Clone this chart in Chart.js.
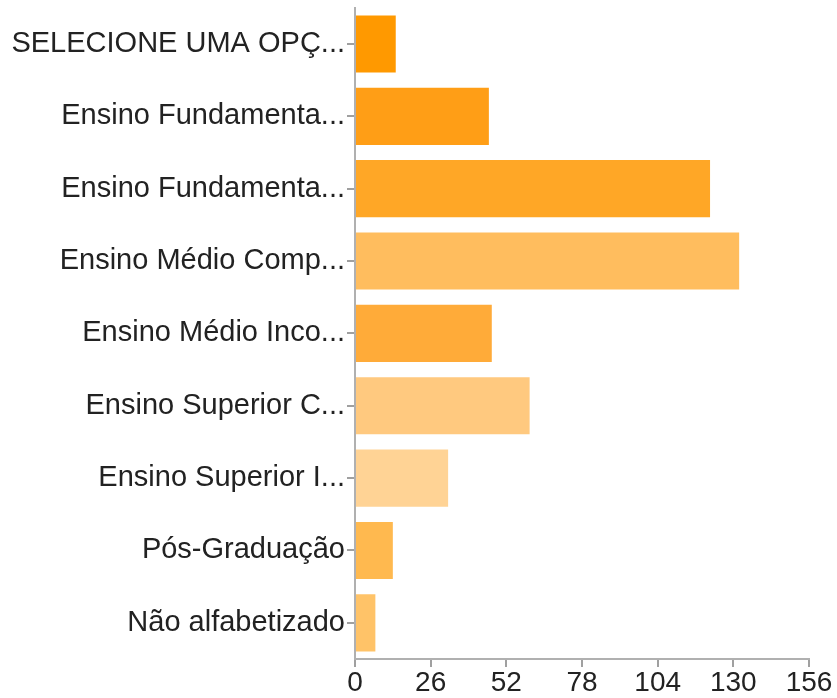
<!DOCTYPE html>
<html>
<head>
<meta charset="utf-8">
<script src="https://cdn.jsdelivr.net/npm/chart.js@4"></script>
<style>
html,body{margin:0;padding:0;background:#fff;}
#wrap{width:837px;height:698px;position:relative;}
</style>
</head>
<body>
<div id="wrap"><canvas id="c"></canvas></div>
<script>
const categories = [
  "SELECIONE UMA OPÇ...",
  "Ensino Fundamenta...",
  "Ensino Fundamenta...",
  "Ensino Médio Comp...",
  "Ensino Médio Inco...",
  "Ensino Superior C...",
  "Ensino Superior I...",
  "Pós-Graduação",
  "Não alfabetizado"
];
const values = [14, 46, 122, 132, 47, 60, 32, 13, 7];
const barColors = ["#FF9900", "#FF9E16", "#FFA726", "#FFBD5E", "#FFAB39", "#FFC97F", "#FFD395", "#FFB94F", "#FFC368"];
const xTicks = [0, 26, 52, 78, 104, 130, 156];

new Chart(document.getElementById('c'), {
  type: 'bar',
  data: {
    labels: categories,
    datasets: [{
      data: values,
      backgroundColor: barColors,
      borderWidth: 0,
      barPercentage: 0.79,
      categoryPercentage: 1
    }]
  },
  options: {
    indexAxis: 'y',
    responsive: true,
    maintainAspectRatio: false,
    animation: false,
    layout: { padding: { top: 7, right: 28, left: 0, bottom: 0 } },
    plugins: { legend: { display: false }, tooltip: { enabled: false } },
    scales: {
      x: {
        type: 'linear',
        min: xTicks[0],
        max: xTicks[xTicks.length - 1],
        afterBuildTicks: (s) => { s.ticks = xTicks.map(v => ({ value: v })); },
        afterFit: (s) => { s.height = 39; },
        border: { display: true, color: '#b0b0b0', width: 2 },
        grid: { drawOnChartArea: false, drawTicks: true, tickLength: 8, color: '#a0a0a0', lineWidth: 2 },
        ticks: { color: '#222', padding: 2, maxRotation: 0, autoSkip: false,
                 font: { family: 'Liberation Sans, Arial, sans-serif', size: 28, lineHeight: 1 } }
      },
      y: {
        type: 'category',
        afterFit: (s) => { s.width = 355; },
        border: { display: true, color: '#b0b0b0', width: 2 },
        grid: { drawOnChartArea: false, drawTicks: true, tickLength: 8, color: '#a0a0a0', lineWidth: 2, offset: false },
        ticks: { color: '#222', padding: 2, autoSkip: false,
                 font: { family: 'Liberation Sans, Arial, sans-serif', size: 29, lineHeight: 0.4 } }
      }
    }
  }
});
</script>
</body>
</html>
